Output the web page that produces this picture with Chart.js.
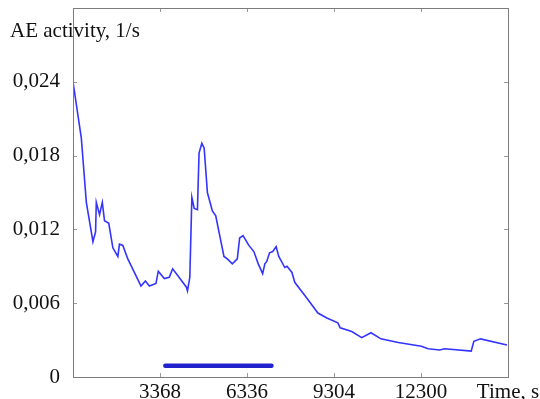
<!DOCTYPE html>
<html>
<head>
<meta charset="utf-8">
<script src="https://cdn.jsdelivr.net/npm/chart.js@4/dist/chart.umd.min.js"></script>
<style>
  body { margin: 0; background: #fff; }
  #wrap { width: 540px; height: 399px; position: relative; }
</style>
</head>
<body>
<div id="wrap"><canvas id="aeChart"></canvas></div>
<script>
// time (s) and AE activity (1/s)
const timeSec = [400, 685, 740, 855, 1080, 1170, 1195, 1305, 1400, 1475, 1620, 1760, 1930, 1985, 2100, 2270,
  2720, 2870, 3005, 3230, 3310, 3515, 3685, 3800, 4270, 4305, 4385, 4455, 4535, 4645, 4700, 4795, 4875,
  4985, 5155, 5270, 5380, 5550, 5665, 5835, 6005, 6085, 6200, 6400, 6570, 6720, 6870, 6945, 7010, 7105,
  7215, 7330, 7420, 7625, 7700, 7870, 7965, 8380, 8755, 9060, 9435, 9515, 9910, 10250, 10565, 10905,
  11495, 12285, 12515, 12910, 13080, 13985, 14075, 14305, 15205];
const aeActivity = [0.0240, 0.0194, 0.0177, 0.0142, 0.0110, 0.0118, 0.0142, 0.0132, 0.0142, 0.0127, 0.0125,
  0.0105, 0.0098, 0.0108, 0.0107, 0.0096, 0.0074, 0.0078, 0.0074, 0.0076, 0.0086, 0.0080, 0.0081, 0.0088,
  0.0073, 0.0070, 0.0081, 0.0146, 0.0137, 0.0136, 0.0182, 0.0190, 0.0186, 0.0150, 0.0135, 0.0131, 0.0118,
  0.0098, 0.0096, 0.0092, 0.0096, 0.0113, 0.0115, 0.0107, 0.0102, 0.0092, 0.0084, 0.0092, 0.0094, 0.0101,
  0.0102, 0.0106, 0.0098, 0.0089, 0.0090, 0.0085, 0.0077, 0.0064, 0.0052, 0.0048, 0.0044, 0.0040, 0.0037,
  0.0032, 0.0036, 0.0031, 0.0028, 0.0025, 0.0023, 0.0022, 0.0023, 0.0021, 0.0029, 0.0031, 0.0026];

// the thick bar under the curve
const barTime = [3550, 7170];
const barLevel = [0.00092, 0.00092];

const xTickLabels = ["", "3368", "6336", "9304", "12300", "Time, s"];
const yTickLabels = ["0", "0,006", "0,012", "0,018", "0,024", ""];

const serif = "'Liberation Serif', 'DejaVu Serif', serif";

const frame = {
  id: "frame",
  afterDatasetsDraw(chart) {
    const { ctx, chartArea: a, scales } = chart;
    ctx.save();
    ctx.strokeStyle = "#9a9a9a";
    ctx.lineWidth = 1;
    ctx.beginPath();
    scales.x.ticks.forEach(t => {
      const px = Math.round(scales.x.getPixelForValue(t.value)) + 0.5;
      ctx.moveTo(px, a.bottom); ctx.lineTo(px, a.bottom - 4);
      ctx.moveTo(px, a.top); ctx.lineTo(px, a.top + 4);
    });
    scales.y.ticks.forEach(t => {
      const py = Math.round(scales.y.getPixelForValue(t.value)) + 0.5;
      ctx.moveTo(a.left, py); ctx.lineTo(a.left + 4, py);
      ctx.moveTo(a.right, py); ctx.lineTo(a.right - 4, py);
    });
    ctx.stroke();
    ctx.strokeStyle = "#7c7c7c";
    ctx.strokeRect(Math.round(a.left) + 0.5, Math.round(a.top) + 0.5,
      Math.round(a.right - a.left), Math.round(a.bottom - a.top));
    ctx.fillStyle = "#111";
    ctx.font = "21px " + serif;
    ctx.textBaseline = "alphabetic";
    ctx.fillText("AE activity, 1/s", 10, 37);
    ctx.restore();
  }
};

new Chart(document.getElementById("aeChart"), {
  type: "line",
  data: {
    datasets: [
      {
        data: timeSec.map((t, i) => ({ x: t, y: aeActivity[i] })),
        borderColor: "#3434ff",
        borderWidth: 1.6,
        pointRadius: 0,
        tension: 0
      },
      {
        data: barTime.map((t, i) => ({ x: t, y: barLevel[i] })),
        borderColor: "#2222cc",
        borderWidth: 4.5,
        borderCapStyle: "round",
        pointRadius: 0
      }
    ]
  },
  options: {
    responsive: true,
    maintainAspectRatio: false,
    animation: false,
    layout: { padding: { top: 8, right: 32, left: 0, bottom: 0 } },
    plugins: { legend: { display: false }, tooltip: { enabled: false } },
    scales: {
      x: {
        type: "linear",
        min: 400,
        max: 15240,
        grid: { display: false },
        border: { display: false },
        ticks: {
          stepSize: 2968,
          maxRotation: 0,
          autoSkip: false,
          padding: -5,
          color: "#111",
          font: { family: serif, size: 21 },
          callback: (v, i) => xTickLabels[i]
        },
        afterFit: s => { s.height = 22; s.paddingLeft = 0; s.paddingRight = 0; }
      },
      y: {
        min: 0,
        max: 0.030,
        grid: { display: false },
        border: { display: false },
        ticks: {
          stepSize: 0.006,
          padding: 5,
          color: "#111",
          font: { family: serif, size: 21 },
          callback: (v, i) => yTickLabels[i]
        },
        afterFit: s => { s.width = 73; s.paddingTop = 0; s.paddingBottom = 0; }
      }
    }
  },
  plugins: [frame]
});
</script>
</body>
</html>
